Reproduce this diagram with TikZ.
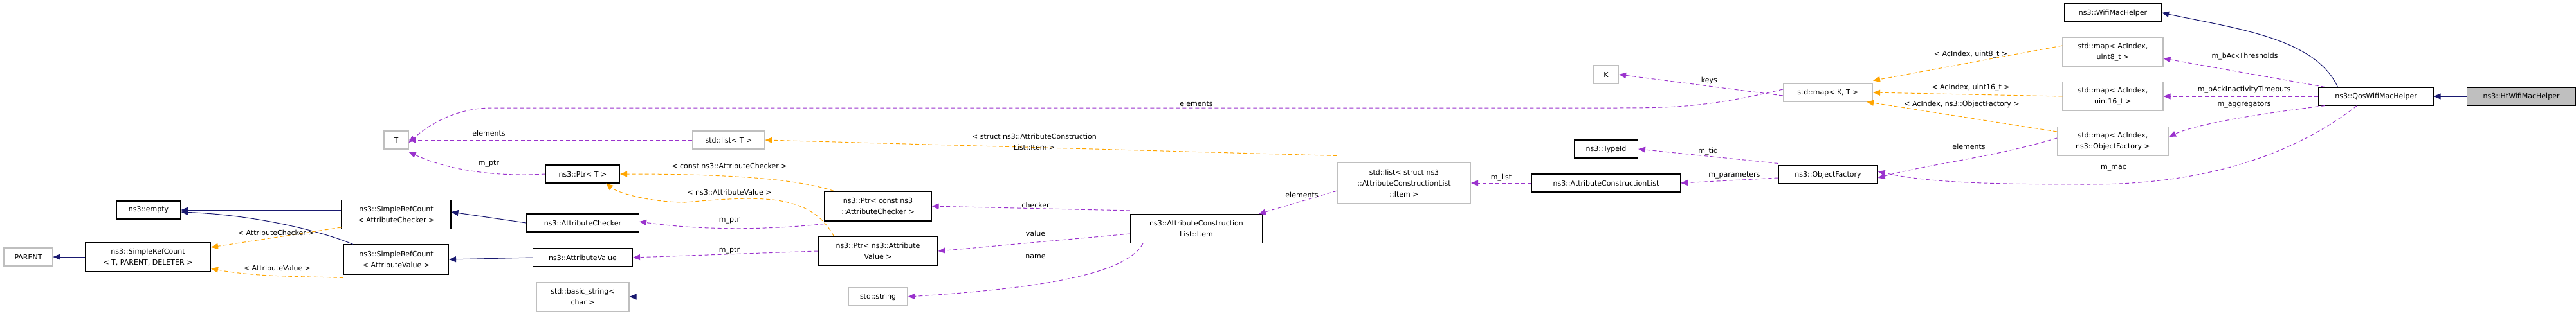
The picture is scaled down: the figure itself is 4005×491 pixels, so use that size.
\documentclass[tikz,border=0pt]{standalone}
\usepackage{fontspec}
\setmainfont{DejaVu Sans}
\usetikzlibrary{arrows.meta}
\definecolor{navy}{HTML}{191970}
\definecolor{purp}{HTML}{9A32CD}
\definecolor{orng}{HTML}{FFA500}
\definecolor{gbord}{HTML}{BFBFBF}
\tikzset{
 box/.style={draw=black,line width=1.1pt,fill=white,align=center,inner sep=1pt,text=black,font=\fontsize{11}{17}\selectfont},
 gbox/.style={box,draw=gbord},
 lab/.style={font=\fontsize{11}{17}\selectfont,align=center,inner sep=0pt,text=black},
 inh/.style={navy,line width=1pt,-{Triangle[length=11pt,width=9pt]}},
 use/.style={purp,line width=1pt,dash pattern=on 6pt off 4pt,-{Triangle[length=11pt,width=9pt]}},
 tpl/.style={orng,line width=1pt,dash pattern=on 6pt off 4pt,-{Triangle[length=11pt,width=9pt]}},
}
\begin{document}
\begin{tikzpicture}[x=1pt,y=-1pt]
\useasboundingbox (0,0) rectangle (4005,491);
\newcommand{\bx}[6]{\node[#1,minimum width=#4pt,minimum height=#5pt] (#2) at #3 {#6};}
\bx{box}{wifi}{(3285,20)}{151}{28}{ns3::WifiMacHelper}
\bx{gbox}{mapu8}{(3285,81)}{156}{45}{std::map< AcIndex,\\uint8\_t >}
\bx{gbox}{mapu16}{(3285,150)}{156}{45}{std::map< AcIndex,\\uint16\_t >}
\bx{gbox}{mapof}{(3285,220)}{173}{45}{std::map< AcIndex,\\ns3::ObjectFactory >}
\bx{box}{qos}{(3694,150)}{178}{28}{ns3::QosWifiMacHelper}
\bx{box,fill=gbord}{ht}{(3920,150)}{169}{28}{ns3::HtWifiMacHelper}
\bx{gbox}{K}{(2497,116)}{39}{28}{K}
\bx{gbox}{mapkt}{(2842,144)}{139}{28}{std::map< K, T >}
\bx{box}{tid}{(2497,232)}{99}{28}{ns3::TypeId}
\bx{box}{of}{(2842,272)}{154}{28}{ns3::ObjectFactory}
\bx{box}{acl}{(2497,285)}{231}{28}{ns3::AttributeConstructionList}
\bx{gbox}{lists}{(2183,285)}{207}{64}{std::list< struct ns3\\::AttributeConstructionList\\::Item >}
\bx{gbox}{listt}{(1133,218)}{112}{28}{std::list< T >}
\bx{box}{ptrt}{(906,271)}{115}{28}{ns3::Ptr< T >}
\bx{box}{ptrcac}{(1365,321)}{166}{46}{ns3::Ptr< const ns3\\::AttributeChecker >}
\bx{box}{ac}{(906,347)}{175}{28}{ns3::AttributeChecker}
\bx{box}{av}{(906,401)}{155}{28}{ns3::AttributeValue}
\bx{box}{ptrav}{(1365,391)}{186}{45}{ns3::Ptr< ns3::Attribute\\Value >}
\bx{box}{item}{(1860,356)}{205}{45}{ns3::AttributeConstruction\\List::Item}
\bx{gbox}{bstr}{(906,462)}{144}{45}{std::basic\_string<\\char >}
\bx{gbox}{str}{(1365,462)}{92}{28}{std::string}
\bx{gbox}{T}{(616,218)}{38}{28}{T}
\bx{box}{empty}{(231,327)}{100}{28}{ns3::empty}
\bx{box}{srcac}{(616,334)}{170}{45}{ns3::SimpleRefCount\\< AttributeChecker >}
\bx{gbox}{parent}{(44,400)}{76}{28}{PARENT}
\bx{box}{srct}{(230,400)}{195}{45}{ns3::SimpleRefCount\\< T, PARENT, DELETER >}
\bx{box}{srcav}{(616,404)}{163}{46}{ns3::SimpleRefCount\\< AttributeValue >}
% inheritance
\draw[inh] (ht) -- (qos);
\draw[inh] (qos.north west)+(30,0) .. controls (3600,60) and (3480,45) .. (wifi.east);
\draw[inh] (srcac.west|-0,327) -- (empty.east);
\draw[inh] (srcav.north west)+(15,0) .. controls (500,360) and (400,335) .. ([yshift=-3pt]empty.east);
\draw[inh] (srct) -- (parent);
\draw[inh] (ac.west) -- ([yshift=4pt]srcac.east);
\draw[inh] (av.west) -- (srcav.east);
\draw[inh] (str) -- (bstr);
% templates
\draw[tpl] ([yshift=3pt]srcac.south west) -- node[lab,pos=0.5,above=2pt]{< AttributeChecker >} ([yshift=-8pt]srct.north east);
\draw[tpl] ([yshift=-5pt]srcav.south west) .. controls (480,430) and (400,432) .. ([yshift=5pt]srct.south east);
\node[lab] at (431,417) {< AttributeValue >};
\draw[tpl] ([xshift=15pt]ptrcac.north west) .. controls (1230,275) and (1100,271) .. (ptrt.east);
\node[lab] at (1134,258) {< const ns3::AttributeChecker >};
\draw[tpl] ([xshift=25pt]ptrav.north west) .. controls (1260,300) and (1180,305) .. (1065,315) .. controls (1010,315) and (960,300) .. ([xshift=-22pt]ptrt.south east);
\node[lab] at (1134,299) {< ns3::AttributeValue >};
\draw[tpl] ([yshift=10pt]lists.north west) -- (listt.east);
\node[lab] at (1608,221) {< struct ns3::AttributeConstruction\\List::Item >};
\draw[tpl] ([yshift=10pt]mapu8.west) -- ([yshift=4pt]mapkt.north east);
\node[lab] at (3064,85) {< AcIndex, uint8\_t >};
\draw[tpl] (mapu16.west) -- (mapkt.east);
\node[lab] at (3064,137) {< AcIndex, uint16\_t >};
\draw[tpl] ([yshift=-8pt]mapof.north west) -- ([xshift=-10pt]mapkt.south east);
\node[lab] at (3050,162) {< AcIndex, ns3::ObjectFactory >};
% usage
\draw[use] ([yshift=-5pt]mapkt.west) -- node[lab,pos=0.45,above=3pt]{keys} (K.east);
\draw[use] ([yshift=5pt]mapkt.west) .. controls (2650,168) and (2600,168) .. (2500,168) -- (760,168) .. controls (700,170) and (660,200) .. ([yshift=-4pt]T.east);
\node[lab] at (1860,161) {elements};
\draw[use] (listt.west) -- (T.east);
\node[lab] at (760,207) {elements};
\draw[use] (ptrt.west) .. controls (760,276) and (690,262) .. ([yshift=-4pt]T.south east);
\node[lab] at (760,255) {m\_ptr};
\draw[use] ([yshift=-4pt]ptrcac.south west) .. controls (1200,357) and (1100,360) .. ([yshift=2pt]ac.east);
\node[lab] at (1134,343) {m\_ptr};
\draw[use] (ptrav.west) -- (av.east);
\node[lab] at (1134,390) {m\_ptr};
\draw[use] ([yshift=5pt]item.north west) -- (ptrcac.east);
\node[lab] at (1610,319) {checker};
\draw[use] ([yshift=-8pt]item.west) -- (ptrav.east);
\node[lab] at (1610,363) {value};
\draw[use] ([xshift=20pt]item.south west) .. controls (1750,430) and (1600,450) .. (str.east);
\node[lab] at (1610,399) {name};
\draw[use] ([yshift=-12pt]lists.west) -- ([xshift=-6pt]item.north east);
\node[lab] at (2024,303) {elements};
\draw[use] (acl.west) -- node[lab,above=2pt]{m\_list} (lists.east);
\draw[use] ([yshift=3pt]of.north west) -- node[lab,above=2pt]{m\_tid} (tid.east);
\draw[use] ([yshift=-5pt]of.west) -- node[lab,above=2pt,pos=0.45]{m\_parameters} (acl.east);
\draw[use] ([yshift=5pt]mapof.west) .. controls (3100,245) and (3000,255) .. ([yshift=-5pt]of.east);
\node[lab] at (3061,228) {elements};
\draw[use] ([xshift=60pt]qos.south west) .. controls (3580,230) and (3450,287) .. (3250,287) .. controls (3100,287) and (3000,285) .. ([yshift=5pt]of.east);
\node[lab] at (3286,262) {m\_mac};
\draw[use] ([xshift=10pt]qos.north west) -- ([yshift=-10pt]mapu8.east);
\node[lab] at (3490,88) {m\_bAckThresholds};
\draw[use] (qos.west) -- (mapu16.east);
\node[lab] at (3489,140) {m\_bAckInactivityTimeouts};
\draw[use] ([xshift=10pt]qos.south west) .. controls (3450,185) and (3400,200) .. ([yshift=7pt]mapof.east);
\node[lab] at (3489,163) {m\_aggregators};
\end{tikzpicture}
\end{document}
